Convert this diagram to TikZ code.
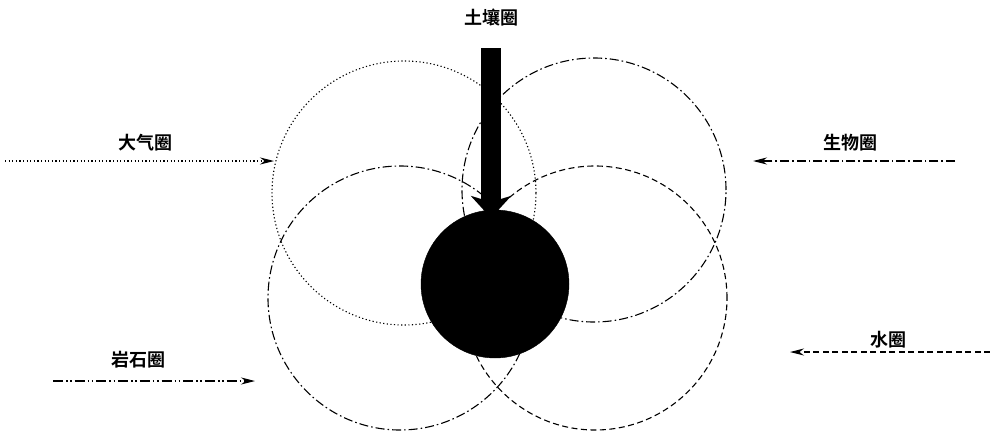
\documentclass[tikz,border=0pt]{standalone}
\usepackage{fontspec}
\newfontfamily\cjk{Noto Sans CJK SC}[BoldFont={Noto Sans CJK SC Bold}]
\usetikzlibrary{arrows.meta,positioning}
\tikzset{
  sphere/.style={draw=black, circle, line width=1.1pt, minimum size=264pt, inner sep=0pt},
  core/.style={draw=black, fill=black, circle, minimum size=148pt, inner sep=0pt},
  namelabel/.style={font=\cjk\bfseries\fontsize{18}{20}\selectfont, inner sep=1pt},
  inarrow/.style={-{Stealth[length=14pt,width=7pt]}, line width=1.1pt},
  soilarrow/.style={-{Stealth[length=22pt,width=40pt,inset=6pt]}, line width=20pt},
  dotline/.style={dash pattern=on 1.2pt off 2.4pt},
  dashdotline/.style={dash pattern=on 9pt off 3pt on 1.6pt off 3pt},
  dashdotdotline/.style={dash pattern=on 10pt off 3pt on 1.6pt off 2.5pt on 1.6pt off 3pt},
  dashline/.style={dash pattern=on 6pt off 3.5pt}
}
\begin{document}
\begin{tikzpicture}[x=1pt,y=-1pt]
  \useasboundingbox (0,0) rectangle (990,431);
  % four spheres
  \node[sphere, dotline] (atm) at (404,193) {};
  \node[sphere, dashdotline] (bio) at (594,190) {};
  \node[sphere, dashdotline] (litho) at (400,298) {};
  \node[sphere, dashline] (hydro) at (595,298) {};
  \node[core] (soilcore) at (495,284) {};

  % labels
  \node[namelabel] (soil) at (491,18) {土壤圈};
  \node[namelabel] (atmlab) at (145,143) {大气圈};
  \node[namelabel] (biolab) at (850,143) {生物圈};
  \node[namelabel] (litholab) at (138,360) {岩石圈};
  \node[namelabel] (hydrolab) at (888,340) {水圈};

  % arrow ends
  \coordinate (atmfrom) at (5,161);
  \coordinate (atmto) at (274,161);
  \coordinate (biofrom) at (955,161);
  \coordinate (bioto) at (753,161);
  \coordinate (lithofrom) at (53,381);
  \coordinate (lithoto) at (255,381);
  \coordinate (hydrofrom) at (990,352);
  \coordinate (hydroto) at (790,352);
  \coordinate (soilfrom) at (491,48);
  \coordinate (soilto) at (491,218);

  \draw[inarrow, dotline] (atmfrom) -- (atmto);
  \draw[inarrow, dashdotline] (biofrom) -- (bioto);
  \draw[inarrow, dashdotdotline] (lithofrom) -- (lithoto);
  \draw[inarrow, dashline] (hydrofrom) -- (hydroto);
  \draw[soilarrow] (soilfrom) -- (soilto);
\end{tikzpicture}
\end{document}
